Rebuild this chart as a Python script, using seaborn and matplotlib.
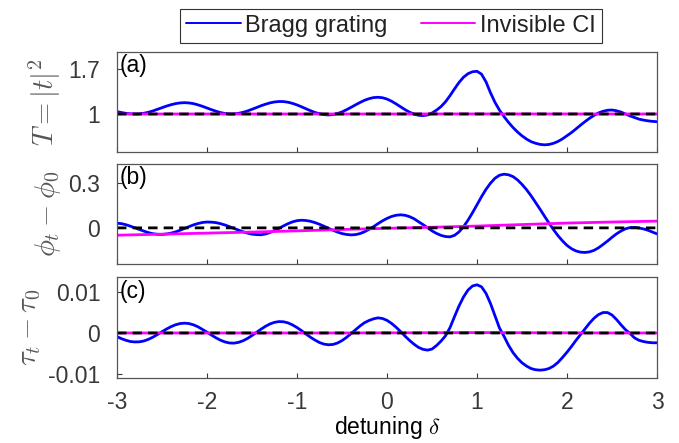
import numpy as np
import matplotlib
matplotlib.use("Agg")
import matplotlib.pyplot as plt
from matplotlib.lines import Line2D
import seaborn as sns

# ---------------- data ----------------
delta = np.round(np.linspace(-3, 3, 121), 2)

T_bragg = [
    1.036, 1.022, 1.010, 1.003, 1.000, 1.002, 1.012, 1.027, 1.048, 1.073,
    1.098, 1.123, 1.144, 1.161, 1.172, 1.176, 1.172, 1.161, 1.142, 1.119,
    1.093, 1.067, 1.043, 1.022, 1.008, 1.001, 1.001, 1.010, 1.026, 1.047,
    1.073, 1.100, 1.128, 1.152, 1.173, 1.187, 1.194, 1.193, 1.183, 1.165,
    1.141, 1.112, 1.081, 1.051, 1.024, 1.003, 0.990, 0.985, 0.991, 1.007,
    1.032, 1.066, 1.103, 1.142, 1.179, 1.213, 1.238, 1.255, 1.260, 1.253,
    1.232, 1.199, 1.158, 1.113, 1.068, 1.029, 0.998, 0.980, 0.975, 0.985,
    1.015, 1.060, 1.115, 1.190, 1.285, 1.390, 1.490, 1.572, 1.627, 1.657,
    1.664, 1.620, 1.500, 1.330, 1.180, 1.060, 0.960, 0.870, 0.790, 0.720,
    0.660, 0.610, 0.570, 0.545, 0.527, 0.520, 0.526, 0.544, 0.573, 0.613,
    0.662, 0.711, 0.768, 0.826, 0.881, 0.933, 0.978, 1.016, 1.042, 1.058,
    1.062, 1.050, 1.030, 1.000, 0.970, 0.945, 0.920, 0.905, 0.893, 0.885,
    0.880,
]

phi_bragg = [
    0.031, 0.028, 0.021, 0.011, 0.000, -0.011, -0.022, -0.032, -0.039, -0.043,
    -0.044, -0.041, -0.035, -0.027, -0.016, -0.004, 0.008, 0.020, 0.029, 0.036,
    0.039, 0.038, 0.035, 0.028, 0.019, 0.008, -0.004, -0.015, -0.026, -0.035,
    -0.042, -0.045, -0.046, -0.041, -0.031, -0.018, -0.003, 0.013, 0.028, 0.040,
    0.048, 0.051, 0.049, 0.044, 0.035, 0.024, 0.011, -0.003, -0.016, -0.028,
    -0.038, -0.044, -0.047, -0.045, -0.038, -0.026, -0.010, 0.008, 0.028, 0.047,
    0.063, 0.076, 0.084, 0.087, 0.084, 0.075, 0.061, 0.041, 0.022, 0.001,
    -0.020, -0.037, -0.050, -0.058, -0.060, -0.050, -0.027, 0.008, 0.051, 0.101,
    0.154, 0.208, 0.257, 0.298, 0.331, 0.351, 0.358, 0.354, 0.342, 0.320,
    0.290, 0.255, 0.215, 0.170, 0.125, 0.078, 0.032, -0.012, -0.052, -0.087,
    -0.117, -0.139, -0.154, -0.162, -0.164, -0.160, -0.150, -0.133, -0.111, -0.088,
    -0.063, -0.040, -0.021, -0.006, 0.002, 0.003, -0.001, -0.007, -0.016, -0.028,
    -0.040,
]

tau_bragg = [
    -0.0009, -0.0014, -0.0018, -0.0021, -0.0022, -0.00216, -0.00195, -0.00155, -0.00101, -0.00037,
    0.00030, 0.00096, 0.00154, 0.00200, 0.00230, 0.00240, 0.00230, 0.00199, 0.00151, 0.00086,
    0.00020, -0.00052, -0.00119, -0.00177, -0.00220, -0.00245, -0.00249, -0.00230, -0.00191, -0.00134,
    -0.00062, 0.00015, 0.00092, 0.00163, 0.00221, 0.00260, 0.00279, 0.00274, 0.00247, 0.00197,
    0.00133, 0.00057, -0.00026, -0.00105, -0.00174, -0.00234, -0.00273, -0.00289, -0.00281, -0.00246,
    -0.00187, -0.00108, -0.00017, 0.00078, 0.00171, 0.00251, 0.00305, 0.00346, 0.00370, 0.00354,
    0.00309, 0.00235, 0.00142, 0.00037, -0.00076, -0.00181, -0.00275, -0.00353, -0.00401, -0.00420,
    -0.00394, -0.00308, -0.00200, -0.00070, 0.00130, 0.00400, 0.00660, 0.00880, 0.01050, 0.01150,
    0.01180, 0.01130, 0.00970, 0.00720, 0.00420, 0.00120, -0.00080, -0.00300, -0.00480, -0.00620,
    -0.00730, -0.00810, -0.00870, -0.00900, -0.00910, -0.00900, -0.00870, -0.00810, -0.00720, -0.00600,
    -0.00470, -0.00330, -0.00180, -0.00040, 0.00100, 0.00240, 0.00360, 0.00450, 0.00500, 0.00500,
    0.00440, 0.00330, 0.00200, 0.00080, -0.00010, -0.00120, -0.00180, -0.00210, -0.00230, -0.00240,
    -0.00240,
]

delta_ci = [-3.0, -2.5, -2.0, -1.5, -1.0, -0.5, 0.0, 0.5, 1.0, 1.5, 2.0, 2.5, 3.0]
T_ci = [1.000, 1.000, 1.000, 1.000, 1.000, 1.000, 1.000, 1.001, 1.001, 1.001, 1.001, 1.000, 1.000]
phi_ci = [-0.049, -0.042, -0.035, -0.028, -0.020, -0.011, -0.003, 0.004, 0.012, 0.022, 0.032, 0.039, 0.045]
tau_ci = [0.0, 0.0, 0.0, 0.0, 0.0, 0.0, 0.00003, 0.00006, 0.0001, 0.00006, 0.00003, 0.0, 0.0]

baseline_x = [-3.0, 3.0]
baselines = [1.0, 0.0, 0.0]

panel_tags = ["(a)", "(b)", "(c)"]
ylabels = [r"$T=|t|^2$", r"$\phi_t-\phi_0$", r"$\tau_t-\tau_0$"]
yticks = [[1, 1.7], [0, 0.3], [-0.01, 0, 0.01]]
yticklabels = [["1", "1.7"], ["0", "0.3"], ["-0.01", "0", "0.01"]]
ylims = [(0.404, 1.969), (-0.243, 0.428), (-0.0109, 0.0137)]
xticks = [-3, -2, -1, 0, 1, 2, 3]
xticklabels = ["-3", "-2", "-1", "0", "1", "2", "3"]
legend_labels = ["Bragg grating", "Invisible CI"]

# ---------------- styling ----------------
sns.set_theme(style="white")
plt.rcParams["font.family"] = ["Liberation Sans", "DejaVu Sans"]
plt.rcParams["mathtext.fontset"] = "cm"
plt.rcParams["axes.unicode_minus"] = False

BLUE = "#0000FF"
MAGENTA = "#FF00FF"
AXCOL = "#383838"
FS = 16.5

fig = plt.figure(figsize=(6.79, 4.43), dpi=100)
W, H = 679, 443
left = 117 / W
width = 540 / W
panel_px = [(51.7, 152.3), (163.7, 264.3), (277.0, 377.5)]

bragg = [T_bragg, phi_bragg, tau_bragg]
ci = [T_ci, phi_ci, tau_ci]

axes = []
for i in range(3):
    top, bot = panel_px[i]
    ax = fig.add_axes([left, 1 - bot / H, width, (bot - top) / H])
    axes.append(ax)
    sns.lineplot(x=delta, y=bragg[i], ax=ax, color=BLUE, lw=2.0, legend=False,
                 snap=False)
    sns.lineplot(x=delta_ci, y=ci[i], ax=ax, color=MAGENTA, lw=2.0, legend=False,
                 snap=False)
    sns.lineplot(x=baseline_x, y=[baselines[i]] * 2, ax=ax, color="black",
                 lw=2.0, linestyle=(0, (3.4, 2.2)), legend=False, snap=False)
    ax.set_xlim(-3, 3)
    ax.set_ylim(*ylims[i])
    ax.set_xticks(xticks)
    ax.set_yticks(yticks[i])
    ax.set_yticklabels(yticklabels[i])
    if i < 2:
        ax.set_xticklabels([])
    else:
        ax.set_xticklabels(xticklabels)
        ax.set_xlabel(r"detuning $\delta$", fontsize=FS, color="black", labelpad=0)
    ax.tick_params(axis="both", direction="in", length=3.5, width=0.8,
                   color=AXCOL, labelcolor=AXCOL, labelsize=FS,
                   left=True, bottom=True, top=False, right=False)
    ax.tick_params(axis="y", pad=12)
    ax.tick_params(axis="x", pad=10)
    ax.set_ylabel(ylabels[i], fontsize=20.5, color="#555555", labelpad=4)
    for sp in ax.spines.values():
        sp.set_color("#555555")
        sp.set_linewidth(0.9)
    ax.text(0.004, 0.975, panel_tags[i], transform=ax.transAxes, ha="left",
            va="top", fontsize=FS, color="black")
    ax.grid(False)

handles = [Line2D([], [], color=BLUE, lw=1.4), Line2D([], [], color=MAGENTA, lw=1.4)]
leg = fig.legend(handles, legend_labels, ncol=2, loc="center",
                 bbox_to_anchor=(391 / W, 1 - 25.7 / H), frameon=True,
                 fancybox=False, framealpha=1, edgecolor="#333333",
                 fontsize=17, handlelength=2.3, handletextpad=0.2,
                 columnspacing=1.4, borderpad=0.25, borderaxespad=0)
leg.get_frame().set_linewidth(0.8)
for t in leg.get_texts():
    t.set_color("#222222")

fig.savefig("out.png", dpi=100)
